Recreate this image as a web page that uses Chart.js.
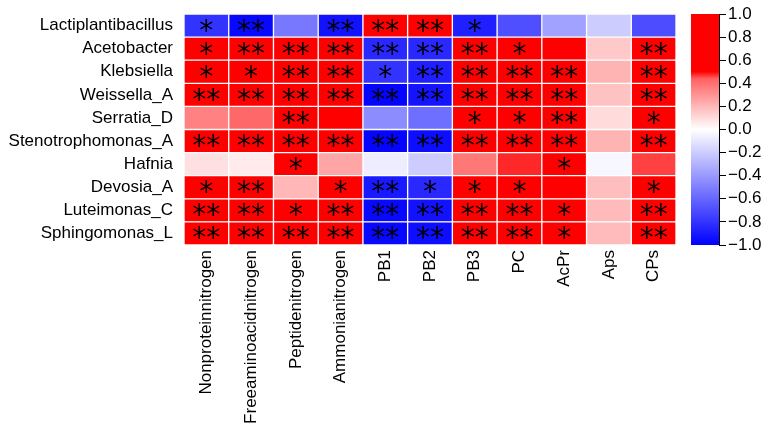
<!DOCTYPE html>
<html><head><meta charset="utf-8">
<script src="https://cdn.jsdelivr.net/npm/chart.js@4/dist/chart.umd.min.js"></script>
<style>html,body{margin:0;padding:0;background:#fff}#wrap{width:774px;height:434px}</style>
</head><body><div id="wrap"><canvas id="c" width="774" height="434"></canvas></div>
<script>
const taxa = ["Lactiplantibacillus","Acetobacter","Klebsiella","Weissella_A","Serratia_D","Stenotrophomonas_A","Hafnia","Devosia_A","Luteimonas_C","Sphingomonas_L"];
const variables = ["Nonproteinnitrogen","Freeaminoacidnitrogen","Peptidenitrogen","Ammonianitrogen","PB1","PB2","PB3","PC","AcPr","Aps","CPs"];

// correlation values, one array per taxon (columns in the order of `variables`)
const lactiplantibacillus = [-0.80,-0.97,-0.53,-0.93, 0.80, 0.75,-0.88,-0.69,-0.37,-0.20,-0.70];
const acetobacter         = [ 0.62, 0.72, 0.78, 0.76,-0.84,-0.84, 0.80, 0.60, 0.55, 0.15, 0.72];
const klebsiella          = [ 0.60, 0.56, 0.72, 0.75,-0.80,-0.88, 0.76, 0.70, 0.70, 0.21, 0.72];
const weissellaA          = [ 0.80, 0.75, 0.76, 0.75,-0.98,-0.92, 0.78, 0.72, 0.70, 0.17, 0.70];
const serratiaD           = [ 0.35, 0.42, 0.70, 0.50,-0.45,-0.57, 0.56, 0.55, 0.70, 0.10, 0.60];
const stenotrophomonasA   = [ 0.80, 0.80, 0.76, 0.75,-0.98,-0.95, 0.78, 0.75, 0.70, 0.21, 0.75];
const hafnia              = [ 0.085,0.055,0.55, 0.25,-0.07,-0.20, 0.375,0.475,0.56,-0.03, 0.46];
const devosiaA            = [ 0.60, 0.70, 0.20, 0.56,-0.90,-0.84, 0.60, 0.60, 0.50, 0.18, 0.60];
const luteimonasC         = [ 0.75, 0.75, 0.60, 0.70,-0.97,-0.93, 0.75, 0.72, 0.60, 0.19, 0.72];
const sphingomonasL       = [ 0.78, 0.78, 0.75, 0.75,-0.97,-0.95, 0.78, 0.72, 0.60, 0.19, 0.72];

// significance marks, one array per taxon
const sigLactiplantibacillus = ["*","**","","**","**","**","*","","","",""];
const sigAcetobacter         = ["*","**","**","**","**","**","**","*","","","**"];
const sigKlebsiella          = ["*","*","**","**","*","**","**","**","**","","**"];
const sigWeissellaA          = ["**","**","**","**","**","**","**","**","**","","**"];
const sigSerratiaD           = ["","","**","","","","*","*","**","","*"];
const sigStenotrophomonasA   = ["**","**","**","**","**","**","**","**","**","","**"];
const sigHafnia              = ["","","*","","","","","","*","",""];
const sigDevosiaA            = ["*","**","","*","**","*","*","*","","","*"];
const sigLuteimonasC         = ["**","**","*","**","**","**","**","**","*","","**"];
const sigSphingomonasL       = ["**","**","**","**","**","**","**","**","*","","**"];

const colorbarTicks = [-1.0,-0.8,-0.6,-0.4,-0.2,0.0,0.2,0.4,0.6,0.8,1.0];

const corrRows = [lactiplantibacillus,acetobacter,klebsiella,weissellaA,serratiaD,stenotrophomonasA,hafnia,devosiaA,luteimonasC,sphingomonasL];
const sigRows = [sigLactiplantibacillus,sigAcetobacter,sigKlebsiella,sigWeissellaA,sigSerratiaD,sigStenotrophomonasA,sigHafnia,sigDevosiaA,sigLuteimonasC,sigSphingomonasL];

function colorFor(v){
  if (v >= 0){
    let t;
    if (v <= 0.44) t = v/0.44*0.62;
    else if (v <= 0.5) t = 0.62 + (v-0.44)/0.06*0.38;
    else t = 1;
    const c = Math.round(255*(1-t));
    return `rgb(255,${c},${c})`;
  } else {
    const t = Math.min(-v,1);
    const c = Math.round(255*(1-t));
    return `rgb(${c},${c},255)`;
  }
}

const FONT = "'Liberation Sans', Arial, sans-serif";
const STAR_FONT = "'DejaVu Sans', sans-serif";

const datasets = variables.map((name,j)=>({
  label: name,
  data: taxa.map(()=>1),
  backgroundColor: corrRows.map(r=>colorFor(r[j])),
  borderColor: '#ffffff',
  borderWidth: 1,
  borderSkipped: false,
  barPercentage: 1,
  categoryPercentage: 1,
  xAxisID: 'x',
  yAxisID: 'y'
}));

const starPlugin = {
  id: 'stars',
  afterDatasetsDraw(chart){
    const ctx = chart.ctx, xs = chart.scales.x, ys = chart.scales.y;
    ctx.save();
    ctx.fillStyle = '#000';
    ctx.font = `28px ${STAR_FONT}`;
    ctx.textAlign = 'center';
    ctx.textBaseline = 'alphabetic';
    sigRows.forEach((row,i)=>{
      row.forEach((s,j)=>{
        if(!s) return;
        const cx = xs.getPixelForValue(j+0.5);
        const cy = ys.getPixelForValue(i);
        ctx.fillText(s, cx, cy + 14);
      });
    });
    ctx.restore();
  }
};

const colorbarPlugin = {
  id: 'colorbar',
  beforeDatasetsDraw(chart){
    const cb = chart.scales.cb, ctx = chart.ctx;
    const yTop = cb.getPixelForValue(1), yBot = cb.getPixelForValue(-1);
    const x1 = cb.left, x0 = x1 - 28;
    const g = ctx.createLinearGradient(0, yBot, 0, yTop);
    for (let k=0;k<=200;k++){
      const v = -1 + k/100;
      g.addColorStop(k/200, colorFor(v));
    }
    ctx.save();
    ctx.fillStyle = g;
    ctx.fillRect(x0, yTop, 28, yBot-yTop);
    ctx.restore();
  }
};

new Chart(document.getElementById('c'), {
  type: 'bar',
  data: { labels: taxa, datasets },
  options: {
    indexAxis: 'y',
    responsive: false,
    animation: false,
    devicePixelRatio: 1,
    layout: { padding: { top: 14, left: 0, right: 0, bottom: 0 } },
    plugins: { legend: { display: false }, tooltip: { enabled: false } },
    scales: {
      x: { type: 'linear', stacked: true, min: 0, max: variables.length, display: false },
      xl: {
        type: 'category', labels: variables, position: 'bottom', offset: true,
        grid: { display: false }, border: { display: false },
        ticks: { minRotation: 90, maxRotation: 90, autoSkip: false, color: '#000', padding: -3, font: { family: FONT, size: 17 } },
        afterFit: s => { s.height = 189; }
      },
      y: {
        type: 'category', stacked: true,
        grid: { display: false }, border: { display: false },
        ticks: { color: '#000', padding: 3, autoSkip: false, font: { family: FONT, size: 17 } },
        afterFit: s => { s.width = 184; }
      },
      gap: {
        type: 'linear', position: 'right', weight: 0, min: 0, max: 1, offset: false,
        grid: { display: false, offset: false }, border: { display: false }, ticks: { display: false },
        afterFit: s => { s.width = 43; }
      },
      cb: {
        type: 'linear', position: 'right', weight: 1, min: -1, max: 1, offset: false,
        afterBuildTicks: s => { s.ticks = colorbarTicks.map(v=>({value:v})); },
        grid: { display: true, offset: false, drawOnChartArea: false, drawTicks: true, tickLength: 7, color: '#000', lineWidth: 1 },
        border: { display: true, color: '#000', width: 1 },
        ticks: {
          color: '#000', padding: 2, autoSkip: false, font: { family: FONT, size: 17 },
          callback: v => { const r = Math.round(v*10)/10; return (r < 0 ? '\u2212' : '') + Math.abs(r).toFixed(1); }
        },
        afterFit: s => { s.width = 55; }
      }
    }
  },
  plugins: [colorbarPlugin, starPlugin]
});
</script>
</body></html>
